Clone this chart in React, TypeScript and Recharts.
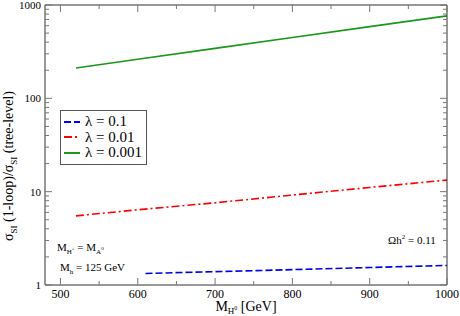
import { Line, LineChart, XAxis, YAxis } from "recharts";

const SERIF = "Liberation Serif, Times New Roman, serif";

// lambda = 0.1 (blue dashed)
const lam01 = [
  { x: 610, y: 1.33 },
  { x: 700, y: 1.39 },
  { x: 800, y: 1.46 },
  { x: 900, y: 1.54 },
  { x: 1000, y: 1.62 },
];
// lambda = 0.01 (red dash-dot)
const lam001 = [
  { x: 520, y: 5.5 },
  { x: 600, y: 6.4 },
  { x: 700, y: 7.6 },
  { x: 800, y: 9.2 },
  { x: 900, y: 11.1 },
  { x: 1000, y: 13.3 },
];
// lambda = 0.001 (green solid)
const lam0001 = [
  { x: 520, y: 211 },
  { x: 600, y: 262 },
  { x: 700, y: 343 },
  { x: 800, y: 449 },
  { x: 900, y: 586 },
  { x: 1000, y: 765 },
];

const xTicks = [500, 550, 600, 650, 700, 750, 800, 850, 900, 950, 1000];
const xMajor = [500, 600, 700, 800, 900, 1000];
const yTicks = [
  1, 2, 3, 4, 5, 6, 7, 8, 9, 10, 20, 30, 40, 50, 60, 70, 80, 90, 100, 200, 300, 400, 500, 600, 700,
  800, 900, 1000,
];
const yMajor = [1, 10, 100, 1000];

const series = [
  { name: "λ = 0.1", data: lam01, color: "#0000ee", dash: "7 3" },
  { name: "λ = 0.01", data: lam001, color: "#ff0000", dash: "8 3 2 3" },
  { name: "λ = 0.001", data: lam0001, color: "#1a961a", dash: undefined },
];

const TICK = "#777";

function LeftTick(props: any) {
  const { x, y, payload } = props;
  const major = yMajor.includes(payload.value);
  return (
    <g>
      <line x1={x} x2={x + (major ? 7 : 4)} y1={y} y2={y} stroke={TICK} />
      {major && (
        <text x={x - 4} y={y + 4} textAnchor="end" fontSize={11} fontFamily={SERIF} fill="#000">
          {payload.value}
        </text>
      )}
    </g>
  );
}

function RightTick(props: any) {
  const { x, y, payload } = props;
  const major = yMajor.includes(payload.value);
  return <line x1={x} x2={x - (major ? 7 : 4)} y1={y} y2={y} stroke={TICK} />;
}

function BottomTick(props: any) {
  const { x, y, payload } = props;
  const major = xMajor.includes(payload.value);
  return (
    <g>
      <line x1={x} x2={x} y1={y} y2={y - (major ? 7 : 4)} stroke={TICK} />
      {major && (
        <text x={x} y={y + 12.5} textAnchor="middle" fontSize={12} fontFamily={SERIF} fill="#000">
          {payload.value}
        </text>
      )}
    </g>
  );
}

function TopTick(props: any) {
  const { x, y, payload } = props;
  const major = xMajor.includes(payload.value);
  return <line x1={x} x2={x} y1={y} y2={y + (major ? 7 : 4)} stroke={TICK} />;
}

function LegendBox() {
  return (
    <div
      style={{
        position: "absolute",
        left: 60,
        top: 110,
        border: "1px solid #555",
        background: "#fff",
        padding: "3px 4px 3px 2px",
        fontFamily: SERIF,
        fontSize: 15,
        lineHeight: "15.5px",
      }}
    >
      {series.map((s) => (
        <div key={s.name} style={{ display: "flex", alignItems: "center", whiteSpace: "nowrap" }}>
          <svg width={18} height={8} style={{ marginRight: 4 }}>
            <line x1={1} x2={17} y1={4} y2={4} stroke={s.color} strokeWidth={2} strokeDasharray={s.dash} />
          </svg>
          {s.name}
        </div>
      ))}
    </div>
  );
}

export default function App() {
  return (
    <div style={{ position: "absolute", left: 0, top: 0, width: 460, height: 316, background: "#fff" }}>
      <LineChart width={460} height={316} margin={{ top: 0, right: 0, bottom: 0, left: 0 }}>
        <XAxis
          dataKey="x"
          type="number"
          domain={[480, 1000]}
          ticks={xTicks}
          interval={0}
          tickSize={0}
          tickMargin={0}
          tickLine={false}
          tick={<BottomTick />}
          height={31}
          stroke="#333"
          allowDataOverflow
        />
        <XAxis
          xAxisId="top"
          orientation="top"
          dataKey="x"
          type="number"
          domain={[480, 1000]}
          ticks={xTicks}
          interval={0}
          tickSize={0}
          tickMargin={0}
          tickLine={false}
          tick={<TopTick />}
          height={5}
          stroke="#333"
          allowDataOverflow
        />
        <YAxis
          type="number"
          scale="log"
          domain={[1, 1000]}
          ticks={yTicks}
          interval={0}
          tickSize={0}
          tickMargin={0}
          tickLine={false}
          tick={<LeftTick />}
          width={45}
          stroke="#333"
          allowDataOverflow
        />
        <YAxis
          yAxisId="right"
          orientation="right"
          type="number"
          scale="log"
          domain={[1, 1000]}
          ticks={yTicks}
          interval={0}
          tickSize={0}
          tickMargin={0}
          tickLine={false}
          tick={<RightTick />}
          width={13}
          stroke="#333"
          allowDataOverflow
        />
        {series.map((s) => (
          <Line
            key={s.name}
            data={s.data}
            dataKey="y"
            name={s.name}
            stroke={s.color}
            strokeWidth={1.6}
            strokeDasharray={s.dash}
            dot={false}
            type="linear"
            isAnimationActive={false}
          />
        ))}
        <text
          transform="translate(13, 166) rotate(-90)"
          textAnchor="middle"
          fontSize={14}
          fontFamily={SERIF}
          fill="#000"
        >
          σ<tspan fontSize={9} dy={4}>SI</tspan>
          <tspan dy={-4}> (1-loop)/σ</tspan>
          <tspan fontSize={9} dy={4}>SI</tspan>
          <tspan dy={-4}> (tree-level)</tspan>
        </text>
        <text x={246} y={310.5} textAnchor="middle" fontSize={14} fontFamily={SERIF} fill="#000">
          M<tspan fontSize={9} dy={3}>H</tspan>
          <tspan fontSize={6} dy={-4}>0</tspan>
          <tspan dy={1}> [GeV]</tspan>
        </text>
        <text x={57} y={251} fontSize={11} fontFamily={SERIF} fill="#000">
          M<tspan fontSize={7} dy={3}>H</tspan>
          <tspan fontSize={5} dy={-4}>±</tspan>
          <tspan dy={1}> = M</tspan>
          <tspan fontSize={7} dy={3}>A</tspan>
          <tspan fontSize={5} dy={-4}>0</tspan>
        </text>
        <text x={60} y={271} fontSize={11} fontFamily={SERIF} fill="#000">
          M<tspan fontSize={7} dy={3}>h</tspan>
          <tspan dy={-3}> = 125 GeV</tspan>
        </text>
        <text x={388} y={244} fontSize={11} fontFamily={SERIF} fill="#000">
          Ωh<tspan fontSize={7} dy={-5}>2</tspan>
          <tspan dy={5}> = 0.11</tspan>
        </text>
      </LineChart>
      <LegendBox />
    </div>
  );
}
